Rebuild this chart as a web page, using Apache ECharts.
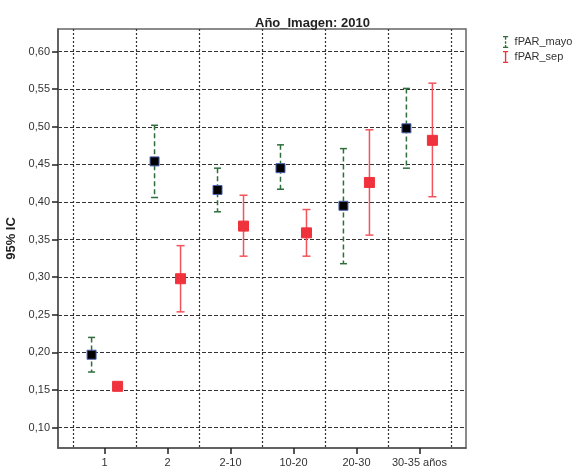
<!DOCTYPE html>
<html>
<head>
<meta charset="utf-8">
<script src="https://cdn.jsdelivr.net/npm/echarts@6/dist/echarts.min.js"></script>
<style>
  html, body { margin: 0; padding: 0; background: #fff; }
  #chart { width: 576px; height: 466px; }
</style>
</head>
<body>
<div id="chart"></div>
<script>
// categorias de edad
var categories = ['1', '2', '2-10', '10-20', '20-30', '30-35 años'];
// fPAR_mayo: media e IC 95%
var mayoMean = [0.197, 0.454, 0.416, 0.445, 0.395, 0.498];
var mayoLow = [0.174, 0.406, 0.387, 0.417, 0.318, 0.445];
var mayoHigh = [0.220, 0.502, 0.445, 0.476, 0.471, 0.551];
// fPAR_sep: media e IC 95%
var sepMean = [0.155, 0.298, 0.368, 0.359, 0.426, 0.482];
var sepLow = [0.153, 0.254, 0.328, 0.328, 0.356, 0.407];
var sepHigh = [0.157, 0.342, 0.409, 0.390, 0.496, 0.558];
// eje y
var yTicks = [0.10, 0.15, 0.20, 0.25, 0.30, 0.35, 0.40, 0.45, 0.50, 0.55, 0.60];

var catIdx = categories.map(function (c, i) { return i; });
var bounds = catIdx.concat([categories.length]).map(function (i) { return i - 0.5; });

function rows(mean, low, high) {
    return mean.map(function (m, i) { return [i, m, low[i], high[i]]; });
}

function errorBar(opt) {
    return function (params, api) {
        var i = api.value(0);
        var mid = api.coord([i, api.value(1)]);
        var lo = api.coord([i, api.value(2)]);
        var hi = api.coord([i, api.value(3)]);
        var cx = mid[0] + opt.offset;
        var cw = opt.cap / 2, s = opt.size / 2;
        var lineStyle = { stroke: opt.color, lineWidth: 1.5, lineDash: opt.dash };
        var capStyle = { stroke: opt.color, lineWidth: 1.5 };
        return {
            type: 'group',
            children: [
                { type: 'line', shape: { x1: cx, y1: hi[1], x2: cx, y2: lo[1] }, style: lineStyle },
                { type: 'line', shape: { x1: cx - cw, y1: hi[1], x2: cx + cw, y2: hi[1] }, style: capStyle },
                { type: 'line', shape: { x1: cx - cw, y1: lo[1], x2: cx + cw, y2: lo[1] }, style: capStyle },
                { type: 'rect', shape: { x: cx - s, y: mid[1] - s, width: opt.size, height: opt.size },
                  style: { fill: opt.fill, stroke: opt.border, lineWidth: 1 } }
            ]
        };
    };
}

var chart = echarts.init(document.getElementById('chart'));
var font = 'Liberation Sans, Arial, sans-serif';

var option = {
    animation: false,
    title: {
        text: 'Año_Imagen: 2010',
        left: 250, top: 12,
        textStyle: { fontFamily: font, fontSize: 13, fontWeight: 'bold', color: '#222' }
    },
    legend: {
        orient: 'vertical',
        left: 498, top: 31,
        itemWidth: 8, itemHeight: 12, itemGap: 3,
        textStyle: { fontFamily: font, fontSize: 11, color: '#333' },
        data: [
            { name: 'fPAR_mayo', icon: 'path://M0,0 L6,0 L6,1.4 L3.8,1.4 L3.8,4.5 L2.2,4.5 L2.2,1.4 L0,1.4 Z M2.2,6 L3.8,6 L3.8,9 L2.2,9 Z M2.2,10.5 L3.8,10.5 L3.8,12.6 L6,12.6 L6,14 L0,14 L0,12.6 L2.2,12.6 Z' },
            { name: 'fPAR_sep', icon: 'path://M0,0 L6,0 L6,1.4 L3.8,1.4 L3.8,12.6 L6,12.6 L6,14 L0,14 L0,12.6 L2.2,12.6 L2.2,1.4 L0,1.4 Z' }
        ]
    },
    grid: {
        left: 58, right: 110, top: 29, bottom: 18,
        show: true, borderColor: '#666', borderWidth: 1.5,
        containLabel: false, outerBoundsMode: 'none'
    },
    xAxis: [
        {
            type: 'value', min: -0.74, max: 5.74, position: 'bottom',
            axisLine: { show: true, onZero: false, lineStyle: { color: '#555', width: 1.5 } },
            axisTick: { show: true, length: 6, customValues: catIdx, lineStyle: { color: '#222', width: 1.5 } },
            axisLabel: {
                customValues: catIdx, margin: 9,
                fontFamily: font, fontSize: 11, color: '#333',
                formatter: function (v) { return categories[Math.round(v)]; }
            },
            splitLine: { show: false }
        },
        {
            type: 'value', min: -0.74, max: 5.74, position: 'top',
            axisLine: { show: false, onZero: false },
            axisTick: { show: false, customValues: bounds },
            axisLabel: { show: false, customValues: bounds },
            splitLine: { show: true, lineStyle: { color: '#333', type: [2, 2], width: 1.2 } }
        }
    ],
    yAxis: {
        type: 'value', min: 0.073, max: 0.63,
        name: '95% IC', nameLocation: 'middle', nameGap: 36,
        nameTextStyle: { fontFamily: font, fontSize: 13, fontWeight: 'bold', color: '#222' },
        axisLine: { show: true, onZero: false, lineStyle: { color: '#555', width: 1.5 } },
        axisTick: { show: true, length: 6, customValues: yTicks, lineStyle: { color: '#222', width: 1.5 } },
        axisLabel: {
            customValues: yTicks, margin: 8,
            fontFamily: font, fontSize: 11, color: '#333',
            formatter: function (v) { return v.toFixed(2).replace('.', ','); }
        },
        splitLine: { show: true, lineStyle: { color: '#333', type: [4, 2], width: 1.2 } }
    },
    series: [
        {
            name: 'fPAR_mayo', type: 'custom', xAxisIndex: 0,
            itemStyle: { color: '#2f6e3c' },
            renderItem: errorBar({ offset: -13, color: '#2f6e3c', dash: [5, 3], cap: 7, size: 9, fill: '#000', border: '#4a63b0' }),
            encode: { x: 0, y: [1, 2, 3] },
            data: rows(mayoMean, mayoLow, mayoHigh)
        },
        {
            name: 'fPAR_sep', type: 'custom', xAxisIndex: 0,
            itemStyle: { color: '#f0323c' },
            renderItem: errorBar({ offset: 13, color: '#f2545b', dash: null, cap: 8, size: 10, fill: '#f0323c', border: '#f0323c' }),
            encode: { x: 0, y: [1, 2, 3] },
            data: rows(sepMean, sepLow, sepHigh)
        }
    ]
};
chart.setOption(option);
</script>
</body>
</html>
